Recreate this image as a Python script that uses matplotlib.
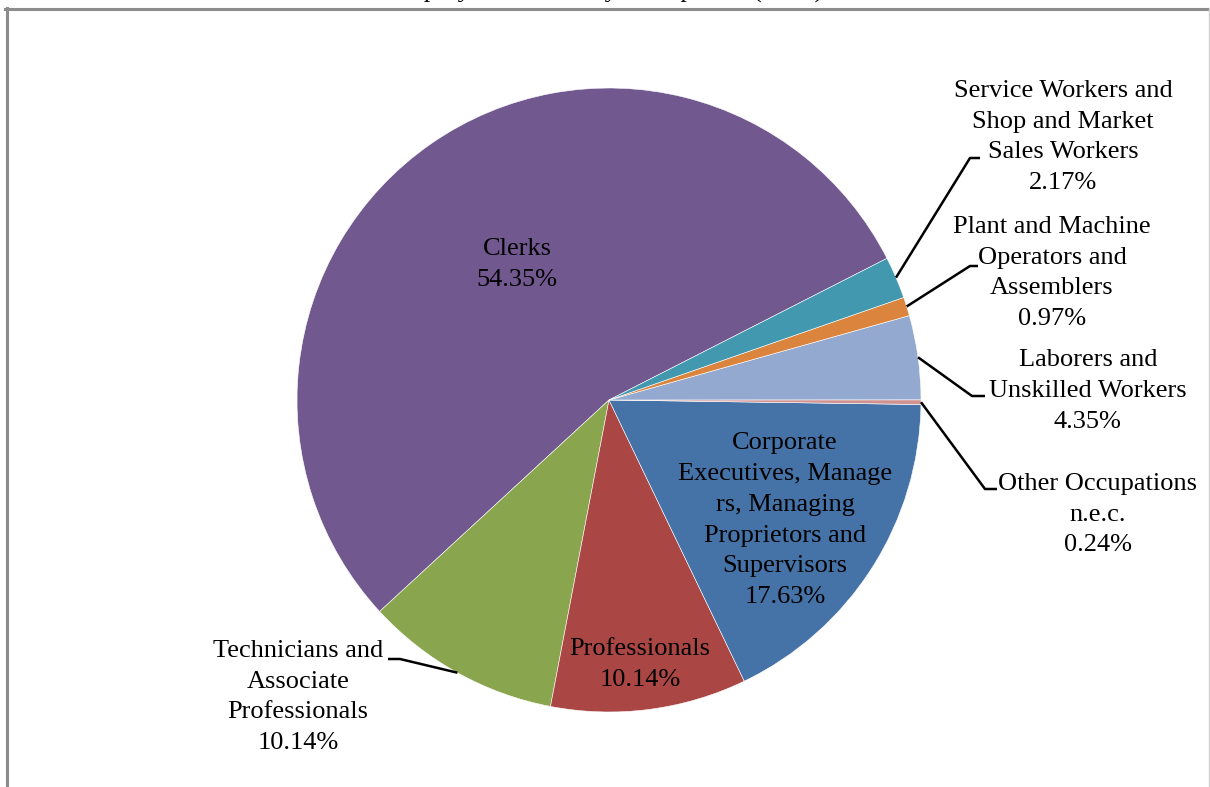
import numpy as np
import matplotlib
matplotlib.use("Agg")
import matplotlib.pyplot as plt

plt.rcParams['font.family'] = ['Liberation Serif', 'DejaVu Serif']

title = "Employed Persons by Occupation (2010)"

occupations = [
    "Clerks",
    "Technicians and\nAssociate\nProfessionals",
    "Professionals",
    "Corporate\nExecutives, Manage\nrs, Managing\nProprietors and\nSupervisors",
    "Other Occupations\nn.e.c.",
    "Laborers and\nUnskilled Workers",
    "Plant and Machine\nOperators and\nAssemblers",
    "Service Workers and\nShop and Market\nSales Workers",
]
shares = [54.35, 10.14, 10.14, 17.63, 0.24, 4.35, 0.97, 2.17]
colors = ["#71588f", "#89a54e", "#aa4643", "#4572a7",
          "#d19392", "#93a9cf", "#db843d", "#4198af"]

# label centre (data units, pie radius = 1), and elbow/end of leader line (None = inside)
label_pos = [(-0.295, 0.433), (-0.997, -0.952), (0.099, -0.848), (0.564, -0.385),
             (1.567, -0.367), (1.535, 0.029), (1.42, 0.407), (1.455, 0.843)]
leaders = [None, ((400, 659), (388, 659)), None, None,
           ((985, 489), (997, 489)), ((972, 396), (985, 396)),
           ((970, 266), (978, 266)), ((970, 158), (980, 158))]

W, H = 1210, 787
cx, cy, R = 609, 400, 312

fig = plt.figure(figsize=(W / 100, H / 100), dpi=100)
ax = fig.add_axes([0, 0, 1, 1])

wedges, _ = ax.pie(shares, colors=colors, startangle=27, counterclock=True,
                   radius=1, wedgeprops=dict(edgecolor='white', linewidth=0.4))
ax.set_xlim(-cx / R, (W - cx) / R)
ax.set_ylim(-(H - cy) / R, cy / R)
ax.set_aspect('auto')
ax.axis('off')


def px2d(p):
    return ((p[0] - cx) / R, (cy - p[1]) / R)


for w, name, val, pos, ld in zip(wedges, occupations, shares, label_pos, leaders):
    ax.text(pos[0], pos[1], f"{name}\n{val:.2f}%", ha='center', va='center',
            fontsize=19, linespacing=1.52, color='black')
    if ld is not None:
        mid = np.deg2rad((w.theta1 + w.theta2) / 2)
        start = (np.cos(mid), np.sin(mid))
        elbow, end = px2d(ld[0]), px2d(ld[1])
        ax.plot([start[0], elbow[0], end[0]], [start[1], elbow[1], end[1]],
                color='black', lw=1.8, solid_capstyle='butt')

# title sits above the visible area
fig.text(0.5, 1 + 2.5 / H, title, ha='center', va='baseline', fontsize=19)

# chart area frame
fig.add_artist(plt.Line2D([6.5 / W, 6.5 / W], [0, 1 - 8 / H], color='#8c8c8c', lw=2.2))
fig.add_artist(plt.Line2D([5 / W, 1209 / W], [1 - 8.5 / H, 1 - 8.5 / H], color='#8c8c8c', lw=2.2))
fig.add_artist(plt.Line2D([1208.5 / W, 1208.5 / W], [0, 1 - 8 / H], color='#d0d0d0', lw=1))

fig.savefig("out.png", dpi=100)
